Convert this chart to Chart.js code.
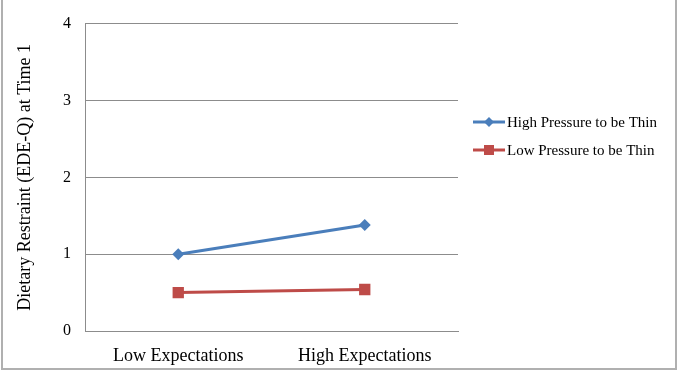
<!DOCTYPE html>
<html>
<head>
<meta charset="utf-8">
<script src="https://cdn.jsdelivr.net/npm/chart.js@4/dist/chart.umd.min.js"></script>
<style>
html,body{margin:0;padding:0;background:#fff;}
#wrap{width:682px;height:371px;position:relative;}
</style>
</head>
<body>
<div id="wrap"><canvas id="c" width="682" height="371"></canvas></div>
<script>
const categories = ["Low Expectations", "High Expectations"];
const highPressure = [1.0, 1.38];
const lowPressure = [0.50, 0.54];
const yTicks = [0, 1, 2, 3, 4];
const seriesLabels = ["High Pressure to be Thin", "Low Pressure to be Thin"];
const yTitle = "Dietary Restraint (EDE-Q) at Time 1";

const FONT = "'Liberation Serif', 'Times New Roman', serif";
const BLUE = "#4A7EBB";
const RED = "#BE4B48";

const framePlugin = {
  id: 'frame',
  afterDraw(chart) {
    const ctx = chart.ctx;
    ctx.save();
    ctx.strokeStyle = '#b0b0b0';
    ctx.lineWidth = 2;
    ctx.strokeRect(2, -2, 674, 371);
    ctx.restore();
  }
};

const legendPlugin = {
  id: 'customLegend',
  afterDraw(chart) {
    const ctx = chart.ctx;
    const ys = [122, 150];
    chart.data.datasets.forEach((ds, i) => {
      const y = ys[i];
      ctx.save();
      ctx.strokeStyle = ds.borderColor;
      ctx.lineWidth = 3;
      ctx.beginPath();
      ctx.moveTo(473, y);
      ctx.lineTo(505, y);
      ctx.stroke();
      ctx.fillStyle = ds.pointBackgroundColor;
      if (ds.pointStyle === 'rectRot') {
        ctx.beginPath();
        ctx.moveTo(489, y - 5);
        ctx.lineTo(494, y);
        ctx.lineTo(489, y + 5);
        ctx.lineTo(484, y);
        ctx.closePath();
        ctx.fill();
      } else {
        ctx.fillRect(484, y - 5, 10, 10);
      }
      ctx.fillStyle = '#000';
      ctx.font = "15px " + FONT;
      ctx.textBaseline = 'middle';
      ctx.textAlign = 'left';
      ctx.fillText(ds.label, 507, y + 1);
      ctx.restore();
    });
  }
};

new Chart(document.getElementById('c'), {
  type: 'line',
  data: {
    labels: categories,
    datasets: [
      {
        label: seriesLabels[0],
        data: highPressure,
        borderColor: BLUE,
        backgroundColor: BLUE,
        pointBackgroundColor: BLUE,
        pointBorderColor: BLUE,
        borderWidth: 3,
        pointStyle: 'rectRot',
        pointRadius: 6,
        pointBorderWidth: 0,
        tension: 0
      },
      {
        label: seriesLabels[1],
        data: lowPressure,
        borderColor: RED,
        backgroundColor: RED,
        pointBackgroundColor: RED,
        pointBorderColor: RED,
        borderWidth: 3,
        pointStyle: 'rect',
        pointRadius: 8,
        pointBorderWidth: 0,
        tension: 0
      }
    ]
  },
  options: {
    responsive: false,
    animation: false,
    devicePixelRatio: 1,
    layout: { padding: { left: 0, right: 224, top: 22, bottom: 0 } },
    plugins: {
      legend: { display: false },
      tooltip: { enabled: false }
    },
    scales: {
      x: {
        offset: true,
        grid: { display: false, drawTicks: false },
        border: { display: true, color: '#8c8c8c', width: 1 },
        ticks: {
          color: '#000',
          font: { family: FONT, size: 18 },
          padding: 14,
          maxRotation: 0
        },
        afterFit(s) { s.height = 40; }
      },
      y: {
        min: 0,
        max: 4,
        afterBuildTicks(s) { s.ticks = yTicks.map(v => ({ value: v })); },
        grid: { color: '#8c8c8c', lineWidth: 1, drawTicks: false },
        border: { display: true, color: '#8c8c8c', width: 1 },
        ticks: {
          color: '#000',
          font: { family: FONT, size: 16 },
          padding: 14
        },
        title: {
          display: true,
          text: yTitle,
          color: '#000',
          font: { family: FONT, size: 18 },
          padding: { top: 14, bottom: 0 }
        },
        afterFit(s) { s.width = 85; }
      }
    }
  },
  plugins: [framePlugin, legendPlugin]
});
</script>
</body>
</html>
